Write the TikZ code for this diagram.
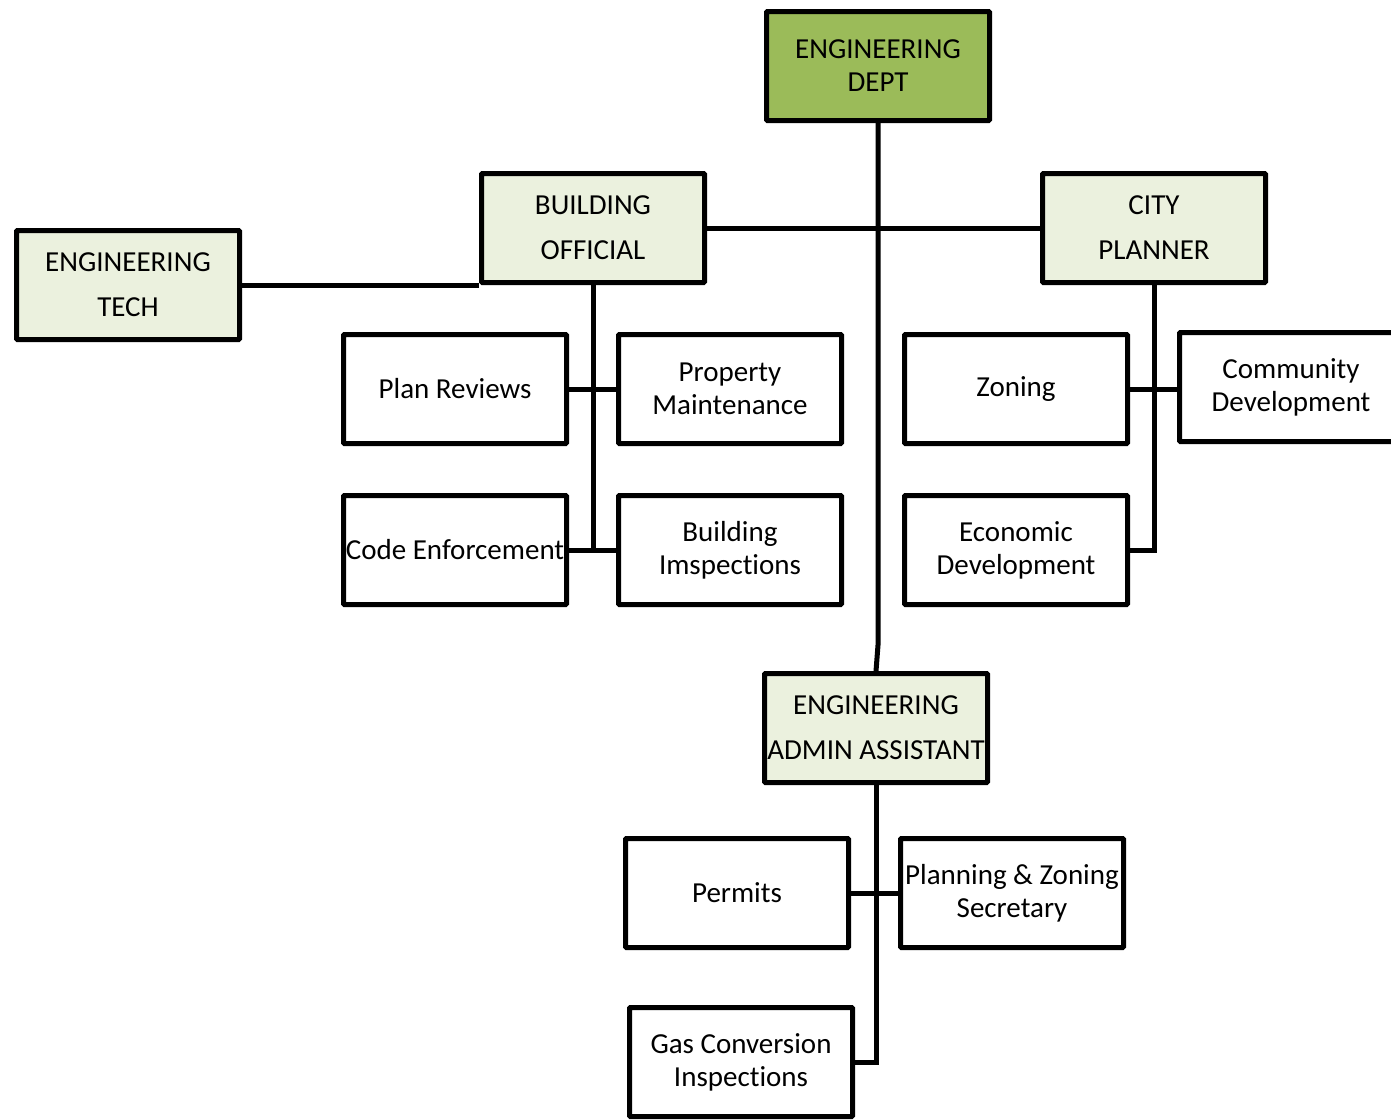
\documentclass[tikz,border=0pt]{standalone}
\usepackage{fontspec}
\setmainfont{Carlito}[Ligatures=CommonOff]
\usepackage{xcolor}
\definecolor{leaf}{HTML}{9BBB59}
\definecolor{mist}{HTML}{EBF1DE}
\usepackage{tikz}
\usetikzlibrary{positioning}
\tikzset{
    unit/.style={draw=black, line width=5pt, outer sep=2.5pt, fill=white, rounded corners=1pt, minimum width=223pt, minimum height=109pt, inner sep=0pt, align=center, font=\fontsize{29}{33}\selectfont},
    head_unit/.style={unit, fill=leaf},
    lead_unit/.style={unit, fill=mist, font=\fontsize{29}{45}\selectfont},
    link/.style={draw=black, line width=5pt}
}

\begin{document}
\begin{tikzpicture}[x=1pt, y=1pt]

  \useasboundingbox (0,0) rectangle (1391,-1119);
  \clip (0,0) rectangle (1391,-1119);

  % Department head
  \node[head_unit] (dept) at (878,-66) {ENGINEERING\\DEPT};

  % Second row
  \node[lead_unit, below=48pt of dept, xshift=-285pt] (building) {BUILDING\\OFFICIAL};
  \node[lead_unit, below=48pt of dept, xshift=276pt] (planner) {CITY\\PLANNER};
  \node[lead_unit, left=237pt of building, yshift=-57pt] (tech) {ENGINEERING\\TECH};

  % Building official duties
  \node[unit, below=47pt of building, xshift=-138pt] (plan) {Plan Reviews};
  \node[unit, right=47pt of plan] (property) {Property\\Maintenance};
  \node[unit, below=47pt of plan] (code) {Code Enforcement};
  \node[unit, right=47pt of code] (inspect) {Building\\Imspections};

  % City planner duties
  \node[unit, below=47pt of planner, xshift=-138pt] (zoning) {Zoning};
  \node[unit, right=47pt of zoning, yshift=2pt] (community) {Community\\Development};
  \node[unit, below=47pt of zoning] (econ) {Economic\\Development};

  % Admin assistant and duties
  \node[lead_unit, below=548pt of dept, xshift=-2pt] (admin) {ENGINEERING\\ADMIN ASSISTANT};
  \node[unit, below=51pt of admin, xshift=-139pt] (permits) {Permits};
  \node[unit, right=47pt of permits] (secretary) {Planning \& Zoning\\Secretary};
  \node[unit, below=55pt of permits, xshift=4pt] (gas) {Gas Conversion\\Inspections};

  % Main trunk
  \draw[link] (dept.south) -- ++(0,-522) -- (admin.north);
  \draw[link] (building.east) -- (planner.west);
  \draw[link] (tech.east) -- (tech.east -| building.west);

  % Building official branch
  \draw[link] (building.south) -- (building.south |- code.east);
  \draw[link] (plan.east) -- (property.west);
  \draw[link] (code.east) -- (inspect.west);

  % City planner branch
  \draw[link] (planner.south) |- (econ.east);
  \draw[link] (zoning.east) -- (zoning.east -| community.west);

  % Admin branch
  \draw[link] (admin.south) |- (gas.east);
  \draw[link] (permits.east) -- (secretary.west);

\end{tikzpicture}
\end{document}
